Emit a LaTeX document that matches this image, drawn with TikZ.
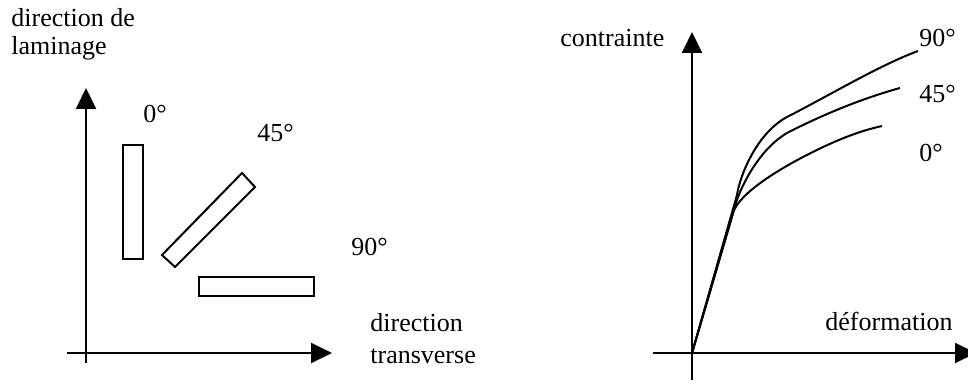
\documentclass[tikz,border=0pt]{standalone}
\usepackage{fontspec}
\setmainfont{Liberation Serif}
\usetikzlibrary{arrows.meta}

\tikzset{
  axis/.style={line width=1pt,-{Triangle[length=10.5pt,width=10pt]}},
  sample/.style={draw=black,line width=1pt},
  curve/.style={line width=1pt},
  lbl/.style={anchor=base west,inner sep=0pt,font=\fontsize{13}{14}\selectfont}
}

\begin{document}
\begin{tikzpicture}[x=0.5pt,y=-0.5pt]
		\useasboundingbox (0,0) rectangle (968,390);

		%left axes
		\coordinate (lo) at (86,353);
		\coordinate (lbot) at (86,363);
		\coordinate (ltop) at (86,88);
		\coordinate (lleft) at (67,353);
		\coordinate (lright) at (332,353);
		\draw[axis] (lbot) -- (ltop);
		\draw[axis] (lleft) -- (lright);

		%samples
		\draw[sample] (123,145) rectangle (143,259);
		\draw[sample] (162,255) -- (175,267) -- (255,187) -- (242,173) -- cycle;
		\draw[sample] (199,277) rectangle (314,296);

		%left labels
		\node[lbl,align=left] (dl) at (11,55) {direction de\\laminage};
		\node[lbl] (a0) at (143,123) {0°};
		\node[lbl] (a45) at (257,141) {45°};
		\node[lbl] (a90) at (351,255) {90°};
		\node[lbl,align=left,font=\fontsize{13}{16}\selectfont] (dt) at (370,363) {direction\\transverse};

		%right axes
		\coordinate (ro) at (692,353);
		\coordinate (rbot) at (692,380);
		\coordinate (rtop) at (692,32);
		\coordinate (rleft) at (653,353);
		\coordinate (rright) at (976,353);
		\draw[axis] (rbot) -- (rtop);
		\draw[axis] (rleft) -- (rright);

		%curves
		\coordinate (k0) at (733,213);
		\coordinate (k45) at (736,203);
		\coordinate (k90) at (737,195);
		\draw[curve] (ro) -- (k0) .. controls (739,193) and (780,169) .. (803,157)
		  .. controls (830,143) and (855,132) .. (882,126);
		\draw[curve] (ro) -- (k45) .. controls (740,189) and (758,150) .. (787,133)
		  .. controls (820,116) and (860,99) .. (900,88);
		\draw[curve] (ro) -- (k90) .. controls (740,175) and (757,133) .. (787,117)
		  .. controls (830,95) and (880,65) .. (918,51);

		%right labels
		\node[lbl] (sig) at (560,47) {contrainte};
		\node[lbl] (c90) at (919,47) {90°};
		\node[lbl] (c45) at (919,103) {45°};
		\node[lbl] (c0) at (919,162) {0°};
		\node[lbl] (eps) at (825,330) {déformation};

\end{tikzpicture}
\end{document}
